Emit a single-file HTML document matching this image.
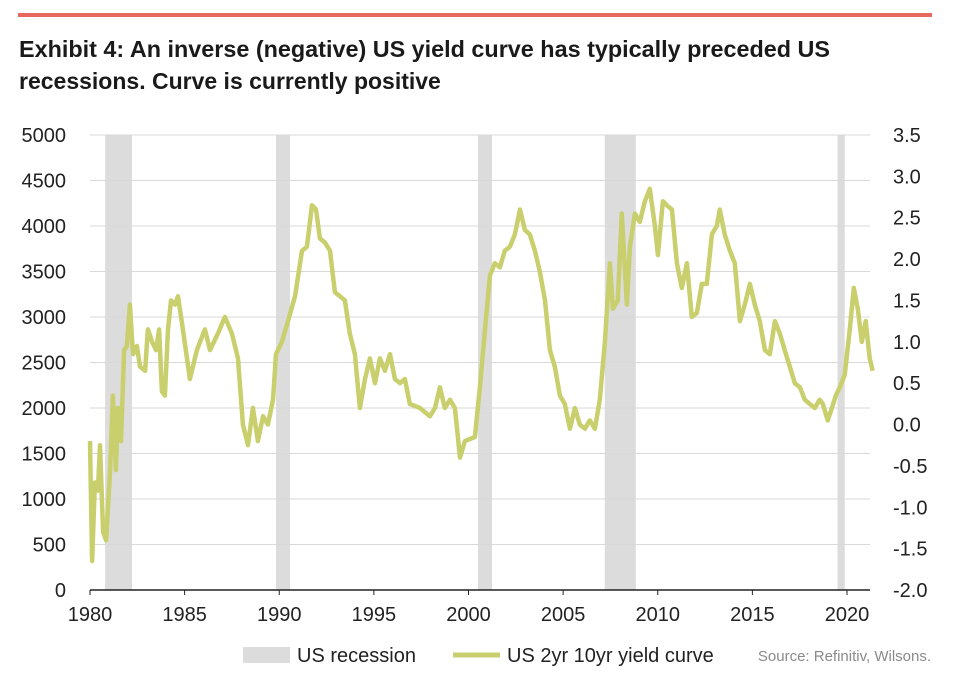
<!DOCTYPE html>
<html><head><meta charset="utf-8"><style>
body{margin:0;background:#fff;font-family:"Liberation Sans",sans-serif;}
#wrap{position:relative;width:954px;height:686px;overflow:hidden;}
</style></head><body>
<div id="wrap">
<svg id="chart" width="954" height="686" xmlns="http://www.w3.org/2000/svg">
<rect x="18" y="13" width="914" height="4" fill="#e8675f"/>
<text x="19" y="57" font-size="23" font-weight="bold" fill="#1a1a1a" textLength="811" lengthAdjust="spacingAndGlyphs">Exhibit 4: An inverse (negative) US yield curve has typically preceded US</text>
<text x="19" y="89" font-size="23" font-weight="bold" fill="#1a1a1a">recessions. Curve is currently positive</text>
<g id="plot"></g>
<rect x="243" y="647" width="47" height="16" fill="#dcdcdc"/>
<text x="297" y="662" font-size="20" fill="#222">US recession</text>
<line x1="453" y1="655" x2="500" y2="655" stroke="#c8cf6c" stroke-width="5"/>
<text x="507" y="662" font-size="20" fill="#222">US 2yr 10yr yield curve</text>
<text x="931" y="661" font-size="15" fill="#8a8a8a" text-anchor="end">Source: Refinitiv, Wilsons.</text>
</svg>
</div>
<script>
const leftTicks=[0,500,1000,1500,2000,2500,3000,3500,4000,4500,5000];
const rightTicks=["3.5","3.0","2.5","2.0","1.5","1.0","0.5","0.0","-0.5","-1.0","-1.5","-2.0"];
const xTicks=[1980,1985,1990,1995,2000,2005,2010,2015,2020];
const recStart=[1980.8,1989.83,2000.5,2007.2,2019.5];
const recEnd=[1982.22,1990.57,2001.24,2008.84,2019.88];
const years=[1980.00,1980.11,1980.26,1980.42,1980.53,1980.69,1980.85,1981.06,1981.21,1981.37,1981.48,1981.64,1981.80,1981.95,1982.11,1982.27,1982.48,1982.64,1982.91,1983.06,1983.28,1983.49,1983.65,1983.80,1983.96,1984.12,1984.28,1984.49,1984.65,1984.91,1985.28,1985.65,1986.07,1986.34,1986.76,1987.13,1987.50,1987.82,1988.08,1988.35,1988.61,1988.87,1989.14,1989.40,1989.67,1989.83,1990.14,1990.46,1990.83,1991.20,1991.46,1991.73,1991.94,1992.15,1992.41,1992.68,1992.94,1993.21,1993.47,1993.73,1994.00,1994.26,1994.53,1994.79,1995.06,1995.32,1995.58,1995.85,1996.11,1996.38,1996.64,1996.90,1997.43,1997.96,1998.23,1998.49,1998.75,1999.02,1999.28,1999.55,1999.81,2000.34,2000.60,2000.87,2001.13,2001.39,2001.66,2001.92,2002.19,2002.45,2002.72,2002.98,2003.24,2003.51,2003.77,2004.04,2004.30,2004.56,2004.83,2005.09,2005.36,2005.62,2005.88,2006.15,2006.41,2006.68,2006.94,2007.21,2007.47,2007.63,2007.89,2008.10,2008.37,2008.53,2008.79,2009.05,2009.32,2009.58,2009.85,2010.01,2010.27,2010.48,2010.75,2011.01,2011.27,2011.54,2011.80,2012.07,2012.33,2012.59,2012.86,2013.12,2013.28,2013.54,2013.81,2014.07,2014.34,2014.60,2014.87,2015.13,2015.39,2015.66,2015.92,2016.19,2016.45,2016.71,2016.98,2017.24,2017.51,2017.77,2018.03,2018.30,2018.56,2018.72,2018.98,2019.20,2019.41,2019.62,2019.88,2020.15,2020.36,2020.57,2020.78,2020.99,2021.20,2021.36];
const spread=[-0.2,-1.65,-0.7,-0.8,-0.25,-1.3,-1.4,-0.55,0.35,-0.55,0.2,-0.2,0.9,0.95,1.45,0.85,0.95,0.7,0.65,1.15,1.0,0.9,1.15,0.4,0.35,1.15,1.5,1.45,1.55,1.15,0.55,0.9,1.15,0.9,1.1,1.3,1.1,0.8,0.0,-0.25,0.2,-0.2,0.1,0.0,0.3,0.85,1.0,1.25,1.55,2.1,2.15,2.65,2.6,2.25,2.2,2.1,1.6,1.55,1.5,1.1,0.85,0.2,0.55,0.8,0.5,0.8,0.65,0.85,0.55,0.5,0.55,0.25,0.2,0.1,0.2,0.45,0.2,0.3,0.2,-0.4,-0.2,-0.15,0.45,1.15,1.8,1.95,1.9,2.1,2.15,2.3,2.6,2.35,2.3,2.1,1.85,1.5,0.9,0.7,0.35,0.25,-0.05,0.2,0.0,-0.05,0.05,-0.05,0.3,1.0,1.95,1.4,1.5,2.55,1.45,2.15,2.55,2.45,2.7,2.85,2.4,2.05,2.7,2.65,2.6,1.95,1.65,1.95,1.3,1.35,1.7,1.7,2.3,2.4,2.6,2.3,2.1,1.95,1.25,1.45,1.7,1.45,1.25,0.9,0.85,1.25,1.1,0.9,0.7,0.5,0.45,0.3,0.25,0.2,0.3,0.25,0.05,0.2,0.35,0.45,0.6,1.15,1.65,1.4,1.0,1.25,0.8,0.65];
const NS="http://www.w3.org/2000/svg";
const plot=document.getElementById('plot');
const X0=90,X1=870,Y0=590,Y1=135;
function xs(y){return X0+(y-1980)*(847-90)/40;}
function yl(v){return Y0-(v/5000)*(Y0-Y1);}
function yr(v){return Y0-((v+2)/5.5)*(Y0-Y1);}
function mk(t,a){const e=document.createElementNS(NS,t);for(const k in a)e.setAttribute(k,a[k]);plot.appendChild(e);return e;}
for(let i=0;i<recStart.length;i++){
 const r=mk('rect',{x:xs(recStart[i]),y:Y1,width:xs(recEnd[i])-xs(recStart[i]),height:Y0-Y1,fill:'#dcdcdc'});
 
 
}
leftTicks.forEach((v,i)=>{
 if(v>0){const g=mk('line',{x1:X0,x2:X1,y1:yl(v),y2:yl(v),stroke:'#d9d9d9','stroke-width':1});
 
 }
 const t=mk('text',{x:66,y:yl(v)+7,'font-size':20,'text-anchor':'end',fill:'#222'});t.textContent=v;
 
 
});
rightTicks.forEach((s,i)=>{
 const t=mk('text',{x:893,y:yr(parseFloat(s))+7,'font-size':20,fill:'#222'});t.textContent=s;
 
 
});
const ax=mk('line',{x1:X0,x2:X1,y1:Y0,y2:Y0,stroke:'#222','stroke-width':1.5});


xTicks.forEach(y=>{
 const tk=mk('line',{x1:xs(y),x2:xs(y),y1:Y0,y2:Y0+5,stroke:'#222'});
 
 
 const t=mk('text',{x:xs(y),y:621,'font-size':20,'text-anchor':'middle',fill:'#222'});t.textContent=y;
 
 
});
const d=years.map((y,i)=>(i?'L':'M')+xs(y).toFixed(1)+','+yr(spread[i]).toFixed(1)).join('');
const p=mk('path',{d:d,fill:'none',stroke:'#c8cf6c','stroke-width':4.5,'stroke-linejoin':'round'});


</script>
</body></html>
